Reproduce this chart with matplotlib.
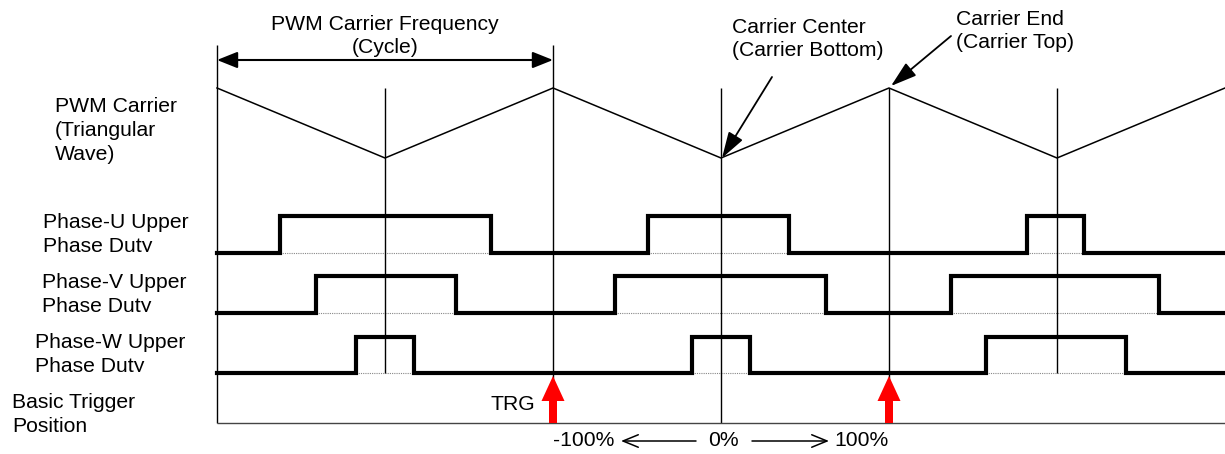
import matplotlib.pyplot as plt
from matplotlib.transforms import Bbox, TransformedBbox

plt.rcParams['font.family'] = ['Liberation Sans', 'DejaVu Sans']

# time axis in % of half a carrier cycle, 0% = carrier centre
carrier_t = [-300, -200, -100, 0, 100, 200, 300]
carrier_lvl = [1, 0, 1, 0, 1, 0, 1]

phase_names = ['Phase-U Upper\nPhase Duty', 'Phase-V Upper\nPhase Duty', 'Phase-W Upper\nPhase Duty']
# (rise, fall) edges of each high pulse
u_edges = [(-262.5, -137), (-43.5, 40.5), (182, 216)]
v_edges = [(-241, -158), (-63, 62.5), (137, 261)]
w_edges = [(-217, -183), (-17, 17), (158, 241)]
phase_edges = [u_edges, v_edges, w_edges]

trigger_t = [-100, 100]
bottom_labels = ['-100%', '0%', '100%']

# layout (y in pixels from the top)
PX0, PXS = 721, 1.68
def px(x):
    return (x - PX0) / PXS

carrier_top, carrier_bot = 88, 158
phase_low = [253, 313, 373]
phase_high = [216, 276, 337]
base_y = 423
FS = 15.2
LS = 1.33

fig = plt.figure(figsize=(12.25, 4.54), dpi=100)
ax = fig.add_axes([0, 0, 1, 1])
ax.set_xlim(px(0), px(1225))
ax.set_ylim(454, 0)
ax.axis('off')

# carrier
cy = [carrier_bot - l * (carrier_bot - carrier_top) for l in carrier_lvl]
ax.plot(carrier_t, cy, color='black', lw=1.1)

# vertical markers
ax.vlines([-300, -100], 45, base_y, color='black', lw=1.0)
ax.vlines([0, 100], carrier_top, base_y, color='black', lw=1.0)
ax.vlines([-200, 200], carrier_top, phase_low[2], color='black', lw=1.0)
ax.hlines(base_y, -300, 300, color='#444444', lw=1.0)

# phase duty waveforms
for edges, lo, hi, name, lx, ly in zip(phase_edges, phase_low, phase_high, phase_names,
                                       [43, 41.5, 35], [213, 273, 333]):
    xs, ys = [-300], [lo]
    for r, f in edges:
        xs += [r, r, f, f]
        ys += [lo, hi, hi, lo]
        ax.hlines(lo, r, f, color='#888888', lw=0.8, linestyle=(0, (1, 1)), zorder=1)
    xs.append(300)
    ys.append(lo)
    ax.plot(xs, ys, color='black', lw=3.0, solid_joinstyle='miter', zorder=3)
    t = ax.text(px(lx), ly, name, fontsize=FS, va='top', ha='left', linespacing=LS)
    # the label box in the original cuts off the descender of "Duty"
    t.set_clip_on(True)
    t.set_clip_path(None)
    t.set_clip_box(TransformedBbox(Bbox([[px(0), 0], [px(215), lo - 1]]), ax.transData))

# trigger arrows
for tt in trigger_t:
    ax.arrow(tt, base_y, 0, -(base_y - 376), width=8 / PXS, head_width=23 / PXS,
             head_length=25, length_includes_head=True, color='red', lw=0, zorder=4)
ax.text(px(535), 395, 'TRG', fontsize=FS, va='top', ha='right')

# left labels
ax.text(px(55), 97, 'PWM Carrier\n(Triangular\nWave)', fontsize=FS, va='top', ha='left', linespacing=LS)
ax.text(px(12), 393, 'Basic Trigger\nPosition', fontsize=FS, va='top', ha='left', linespacing=LS)

# cycle arrow
ax.text(px(385), 15, 'PWM Carrier Frequency\n(Cycle)', fontsize=FS, va='top', ha='center', linespacing=1.28)
ax.annotate('', xy=(-100, 60), xytext=(-300, 60),
            arrowprops=dict(arrowstyle='<|-|>,head_length=1.25,head_width=0.5', color='black',
                            lw=1.5, shrinkA=0, shrinkB=0, mutation_scale=10))

# carrier centre / end callouts
ax.text(px(732), 18, 'Carrier Center\n(Carrier Bottom)', fontsize=FS, va='top', ha='left', linespacing=1.25)
ax.annotate('', xy=(px(722), 158), xytext=(px(772), 77),
            arrowprops=dict(arrowstyle='-|>,head_length=1.6,head_width=0.5', color='black',
                            lw=1.3, shrinkA=0, shrinkB=0, mutation_scale=10))
ax.text(px(956), 10, 'Carrier End\n(Carrier Top)', fontsize=FS, va='top', ha='left', linespacing=1.25)
ax.annotate('', xy=(px(891), 86), xytext=(px(951), 36),
            arrowprops=dict(arrowstyle='-|>,head_length=1.6,head_width=0.5', color='black',
                            lw=1.3, shrinkA=0, shrinkB=0, mutation_scale=10))

# bottom scale
ax.text(-100, 441, bottom_labels[0], fontsize=FS, va='center', ha='left')
ax.text(px(723), 441, bottom_labels[1], fontsize=FS, va='center', ha='center')
ax.text(100, 441, bottom_labels[2], fontsize=FS, va='center', ha='right')
ax.annotate('', xy=(px(621), 441), xytext=(px(696), 441),
            arrowprops=dict(arrowstyle='->,head_length=1.1,head_width=0.45', color='black',
                            lw=1.1, shrinkA=0, shrinkB=0, mutation_scale=10))
ax.annotate('', xy=(px(829), 441), xytext=(px(752), 441),
            arrowprops=dict(arrowstyle='->,head_length=1.1,head_width=0.45', color='black',
                            lw=1.1, shrinkA=0, shrinkB=0, mutation_scale=10))

fig.savefig('out.png', dpi=100)
